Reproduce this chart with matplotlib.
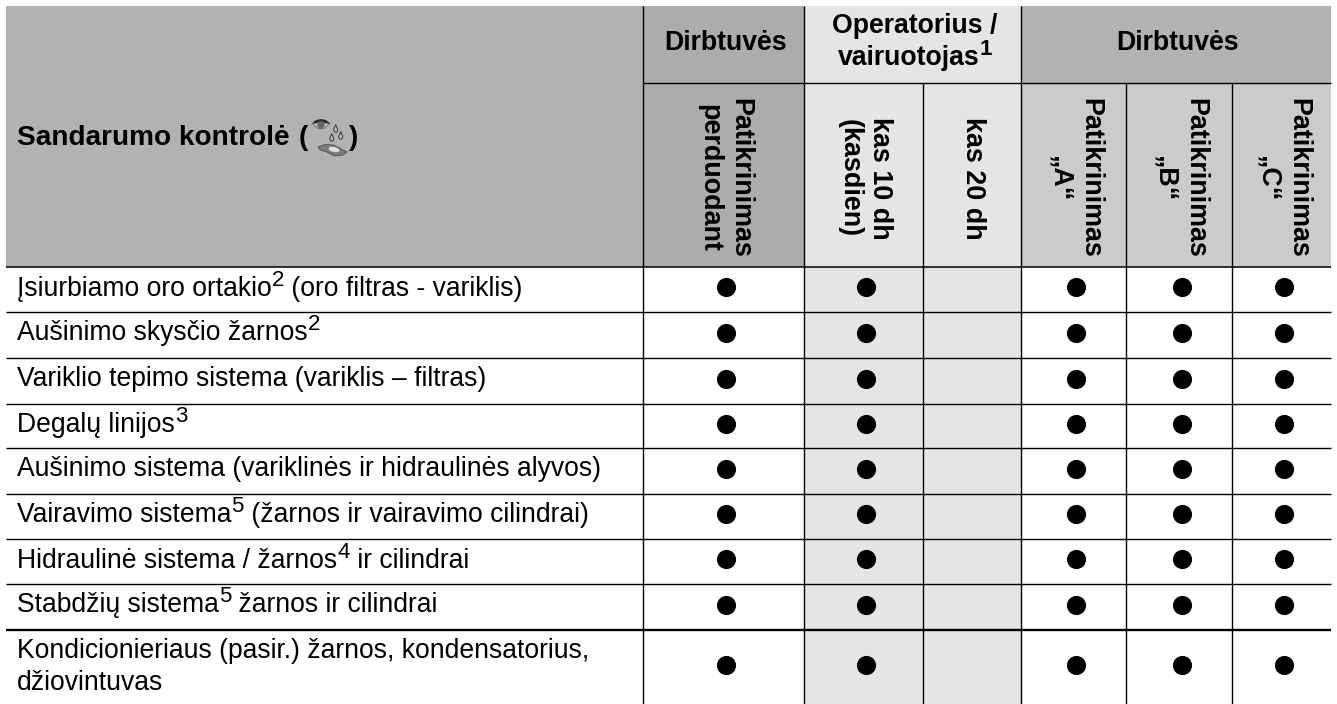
import re
import matplotlib
matplotlib.use('Agg')
import matplotlib.pyplot as plt
from matplotlib.patches import Rectangle, Ellipse, Polygon, Circle

plt.rcParams['font.family'] = ['Liberation Sans', 'DejaVu Sans']

# Table content
title = 'Sandarumo kontrolė'
group_labels = [['Dirbtuvės'], ['Operatorius /', 'vairuotojas^{1}'], ['Dirbtuvės']]
sub_labels = [['Patikrinimas', 'perduodant'], ['kas 10 dh', '(kasdien)'], ['kas 20 dh'],
              ['Patikrinimas', '„A“'], ['Patikrinimas', '„B“'], ['Patikrinimas', '„C“']]
row_labels = [['Įsiurbiamo oro ortakio^{2} (oro filtras - variklis)'],
              ['Aušinimo skysčio žarnos^{2}'],
              ['Variklio tepimo sistema (variklis – filtras)'],
              ['Degalų linijos^{3}'],
              ['Aušinimo sistema (variklinės ir hidraulinės alyvos)'],
              ['Vairavimo sistema^{5} (žarnos ir vairavimo cilindrai)'],
              ['Hidraulinė sistema / žarnos^{4} ir cilindrai'],
              ['Stabdžių sistema^{5} žarnos ir cilindrai'],
              ['Kondicionieriaus (pasir.) žarnos, kondensatorius,', 'džiovintuvas']]
# one row per label, one column per sub header
marks = [[1, 1, 0, 1, 1, 1]] * 9

# Layout in pixels
x_edges = [6, 643, 804, 923, 1021, 1126, 1232, 1331]
y_edges = [267, 312, 358, 404, 448, 494, 539, 584, 630, 704]
top, split = 6, 83

fig = plt.figure(figsize=(13.37, 7.04), dpi=100)
ax = fig.add_axes([0, 0, 1, 1])
ax.set_xlim(0, 1337)
ax.set_ylim(704, 0)
ax.axis('off')
renderer = fig.canvas.get_renderer()

dark, mid, light = '#b2b2b2', '#acacac', '#e5e5e5'
col_fill = [mid, light, light, '#cbcbcb', '#cbcbcb', '#cbcbcb']


def fill(x0, x1, y0, y1, color):
    ax.add_patch(Rectangle((x0, y0), x1 - x0, y1 - y0, fc=color, ec='none', zorder=1))


def line(x0, x1, y0, y1, lw=1.0):
    ax.plot([x0, x1], [y0, y1], color='black', lw=lw, solid_capstyle='butt', zorder=3)


def seg_width(s, size, weight):
    # trailing spaces are not counted by the layout, so measure against a dot
    a = ax.text(0, 0, s + '.', fontsize=size, fontweight=weight)
    b = ax.text(0, 0, '.', fontsize=size, fontweight=weight)
    w = a.get_window_extent(renderer).width - b.get_window_extent(renderer).width
    a.remove()
    b.remove()
    return w


def rich_text(x, y, s, size, weight='normal', center=False):
    # text with raised digits, the superscripts here are almost full size
    parts = re.split(r'\^\{(\d)\}', s)
    sizes = [size if i % 2 == 0 else size * 0.84 for i in range(len(parts))]
    widths = [seg_width(p, z, weight) if p else 0 for p, z in zip(parts, sizes)]
    if center:
        x -= sum(widths) / 2
    for i, p in enumerate(parts):
        if p:
            yy = y - 10 if i % 2 else y
            ax.text(x, yy, p, fontsize=sizes[i], fontweight=weight, va='baseline', ha='left', zorder=4)
        x += widths[i]


# Header fills
fill(x_edges[0], x_edges[1], top, y_edges[0], dark)
fill(x_edges[1], x_edges[2], top, split, mid)
fill(x_edges[2], x_edges[4], top, split, light)
fill(x_edges[4], x_edges[7], top, split, dark)
for i, c in enumerate(col_fill):
    fill(x_edges[i + 1], x_edges[i + 2], split, y_edges[0], c)
# Operator columns stay grey down the body
fill(x_edges[2], x_edges[4], y_edges[0], y_edges[-1], light)

# Grid lines
line(x_edges[1], x_edges[7], split, split)
for x in [x_edges[1], x_edges[2], x_edges[4]]:
    line(x, x, top, y_edges[-1])
for x in [x_edges[3], x_edges[5], x_edges[6]]:
    line(x, x, split, y_edges[-1])
for i, y in enumerate(y_edges[:-1]):
    line(x_edges[0], x_edges[7], y, y, lw=1.7 if i == 8 else 1.1 if i == 0 else 1.0)

# Header text
ax.text(17, 145, title, fontsize=20.2, fontweight='bold', va='baseline', ha='left', zorder=4)
ax.text(299, 145, '(', fontsize=20.2, fontweight='bold', va='baseline', ha='left', zorder=4)
ax.text(349, 145, ')', fontsize=20.2, fontweight='bold', va='baseline', ha='left', zorder=4)
group_x = [(x_edges[1] + x_edges[2]) / 2 + 2, (x_edges[2] + x_edges[4]) / 2 + 2, (x_edges[4] + x_edges[7]) / 2 + 2]
group_base = [[50], [33, 65], [50]]
for x, lines, bases in zip(group_x, group_labels, group_base):
    for s, b in zip(lines, bases):
        rich_text(x, b, s, 19.2, weight='bold', center=True)
for i, lines in enumerate(sub_labels):
    x = (x_edges[i + 1] + x_edges[i + 2]) / 2
    offsets = [9.5, -21] if len(lines) == 2 else [-6]
    for s, off in zip(lines, offsets):
        ax.text(x + off, 178, s, fontsize=19.4, fontweight='bold', rotation=270, va='baseline', ha='center',
                rotation_mode='anchor', zorder=4)

# Eye, drops and puddle icon next to the title
ax.add_patch(Polygon([(311, 124), (316, 120), (321, 119), (326, 120), (331, 124), (326, 123), (316, 123)],
                     fc='#2a2a2a', ec='none', zorder=4))
ax.add_patch(Polygon([(313, 124), (321, 122), (329, 124), (325, 128), (321, 129), (317, 128)],
                     fc='#c8c8c8', ec='#555555', lw=0.5, zorder=4))
ax.add_patch(Circle((321, 125), 3.8, fc='#666666', ec='none', zorder=5))
for dx, dy in [(335.7, 129), (331.7, 138), (340.7, 136)]:
    ax.add_patch(Polygon([(dx, dy - 4.5), (dx + 2, dy + 0.5), (dx + 1.2, dy + 3), (dx - 1.2, dy + 3), (dx - 2, dy + 0.5)],
                         fc='#c0c0c0', ec='#333333', lw=0.7, zorder=4))
ax.add_patch(Polygon([(318, 147), (325, 144.5), (334, 145), (343, 150), (347, 152), (343, 155), (334, 156), (327, 152), (320, 150)],
                     fc='#7c7c7c', ec='#444444', lw=0.5, zorder=4))
ax.add_patch(Ellipse((334, 149.5), 11, 5, angle=12, fc='#dddddd', ec='none', zorder=5))

# Body
for r, lines in enumerate(row_labels):
    top_y = y_edges[r]
    yc = (y_edges[r] + y_edges[r + 1]) / 2 - 2.5
    for k, s in enumerate(lines):
        rich_text(17, top_y + 28.5 + k * 31, s, 19.1)
    for c, m in enumerate(marks[r]):
        if m:
            xc = (x_edges[c + 1] + x_edges[c + 2]) / 2 + 2.5
            ax.plot(xc, yc, 'o', ms=13.8, color='black', mew=0, zorder=4)

fig.savefig('out.png', dpi=100)
